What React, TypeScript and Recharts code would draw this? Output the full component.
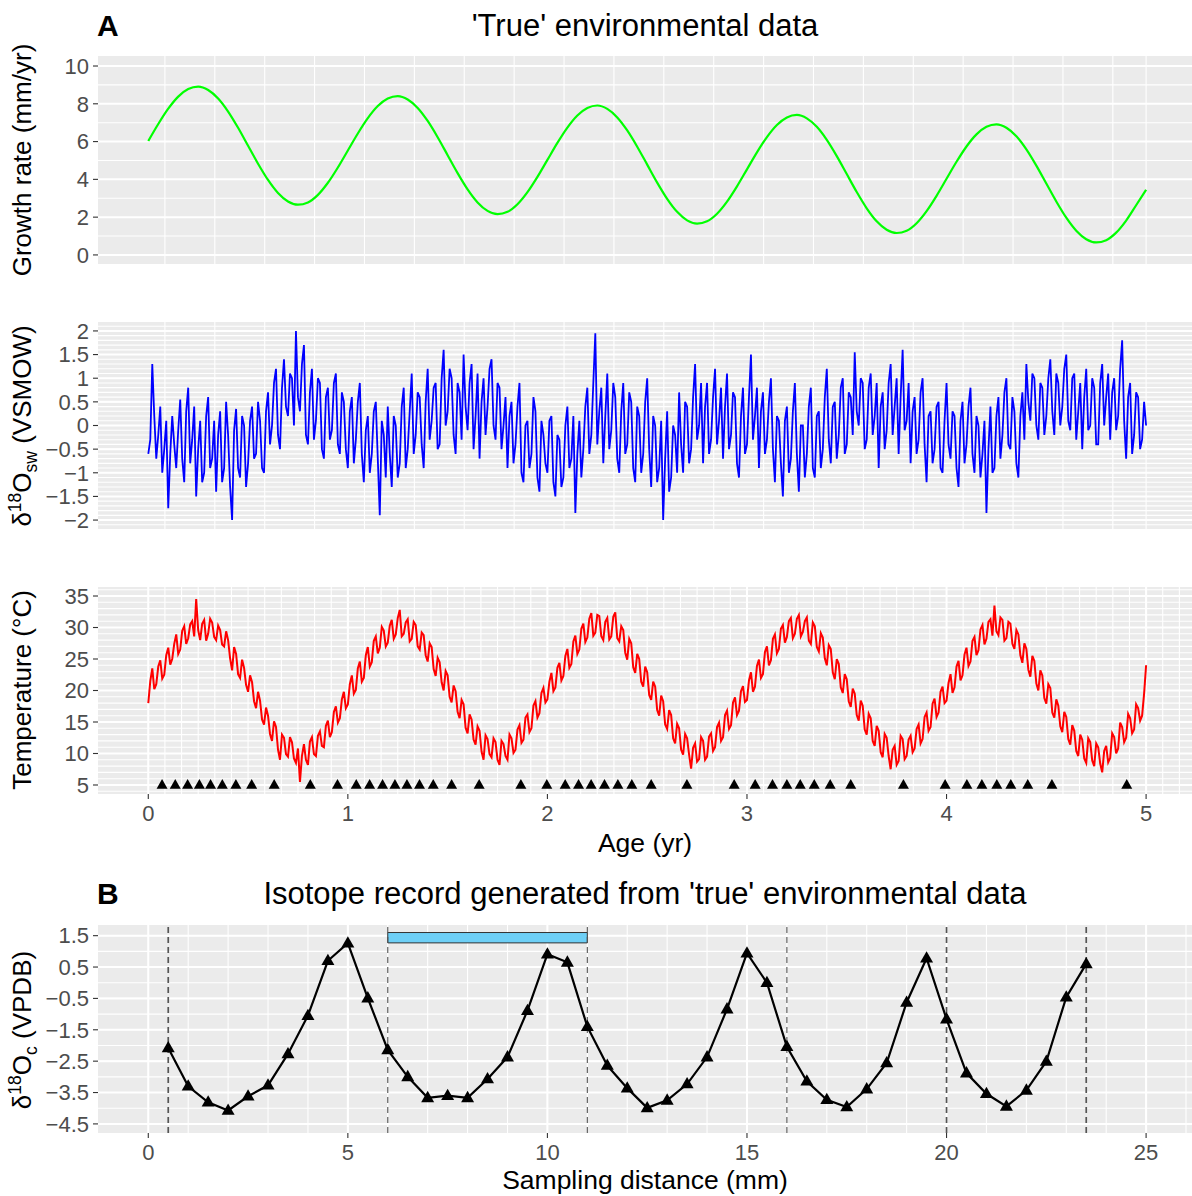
import React from 'react';
import { LineChart, Line, XAxis, YAxis, CartesianGrid, ReferenceLine, ReferenceArea } from 'recharts';

// ---- data ----
// growth rate (mm/yr), evenly spaced from 0 to 5 yr
const growthRate = [
  6.03, 6.93, 7.74, 8.38, 8.78, 8.91, 8.73, 8.28, 7.59, 6.73, 5.78, 4.83, 3.97, 3.28, 2.83, 2.66, 2.78, 3.18, 3.82, 4.63,
  5.53, 6.43, 7.24, 7.88, 8.28, 8.41, 8.23, 7.78, 7.09, 6.23, 5.28, 4.33, 3.47, 2.78, 2.33, 2.16, 2.28, 2.68, 3.32, 4.13,
  5.03, 5.93, 6.74, 7.38, 7.78, 7.91, 7.73, 7.28, 6.59, 5.73, 4.78, 3.83, 2.97, 2.28, 1.83, 1.66, 1.78, 2.18, 2.82, 3.63,
  4.53, 5.43, 6.24, 6.88, 7.28, 7.41, 7.23, 6.78, 6.09, 5.23, 4.28, 3.33, 2.47, 1.78, 1.33, 1.16, 1.28, 1.68, 2.32, 3.13,
  4.03, 4.93, 5.74, 6.38, 6.78, 6.91, 6.73, 6.28, 5.59, 4.73, 3.78, 2.83, 1.97, 1.28, 0.83, 0.66, 0.78, 1.18, 1.82, 2.63,
  3.45,
];

// d18O seawater (VSMOW), evenly spaced from 0 to 5 yr
const d18Osw = [
  -0.6, -0.3, 1.3, 0.2, -0.7, -0.2, 0.4, -1.0, -0.5, 0.1, -1.75, -0.6, 0.2, -0.4, -0.9, -0.1, 0.55, -0.7, -1.2, 0.3,
  0.8, -0.8, -0.3, 0.4, -1.5, -0.5, 0.1, -1.2, -1.0, 0.2, 0.6, -0.9, -0.7, 0.1, -1.4, -0.2, 0.3, -1.2, -0.9, 0.5,
  -0.2, -1.3, -2.0, -0.1, 0.35, -0.9, -1.1, 0.2, 0.0, -1.3, -0.8, 0.1, 0.4, -0.7, -0.6, 0.5, 0.1, -0.9, -1.0, 0.3,
  0.7, -0.4, 0.0, 0.9, 1.2, -0.2, -0.5, 0.8, 1.4, 0.4, 0.2, 1.1, 1.0, 0.0, 2.0, 0.6, 0.3, 1.3, 1.7, -0.2,
  -0.4, 0.7, 1.2, -0.3, 0.1, 1.0, 0.9, -0.5, -0.7, 0.6, 0.8, -0.3, -0.1, 0.9, 1.1, -0.4, -0.6, 0.7, 0.5, -0.5,
  -0.9, 0.3, 0.6, -0.8, -0.3, 0.5, 0.9, -0.6, -1.2, -0.1, 0.2, -1.0, -0.6, 0.3, 0.5, -0.7, -1.9, 0.1, -0.2, -1.1,
  0.4, -0.6, -1.3, 0.2, 0.0, -1.1, -0.8, 0.4, 0.8, -0.9, -0.5, 0.3, 1.1, -0.6, -0.2, 0.7, 0.6, -0.4, -0.9, 0.5,
  1.2, -0.3, 0.1, 0.8, 0.9, -0.5, -0.4, 1.0, 1.6, 0.0, 0.3, 1.2, 1.0, -0.2, -0.6, 0.9, 0.7, -0.3, 1.5, 0.4,
  -0.1, 0.9, 1.3, -0.5, 0.2, 1.1, -0.7, 0.5, 1.0, -0.2, 0.4, 1.2, 1.4, 0.0, -0.3, 0.9, 0.8, -0.5, 0.0, 0.6,
  -0.9, 0.2, 0.5, -0.8, -0.4, 0.4, 0.9, -1.0, -1.2, 0.0, 0.1, -0.9, -0.6, 0.6, 0.3, -1.1, -1.4, 0.1, -0.2, -0.8,
  -1.0, 0.1, 0.2, -1.2, -1.5, -0.2, -0.3, -1.3, -1.1, 0.0, 0.4, -0.9, -0.7, 0.2, -1.85, -0.6, 0.1, -1.1, -0.5, 0.4,
  0.8, -0.6, -0.2, 0.9, 1.95, -0.4, 0.3, 0.8, -0.8, 0.2, 1.1, -0.5, -0.1, 0.9, 0.6, -0.7, -1.0, 0.3, 0.9, -0.6,
  -0.4, 0.7, 0.5, -0.9, -1.2, 0.4, 0.2, -1.0, -0.6, 0.5, 1.0, -0.5, -1.3, 0.2, 0.0, -1.2, -0.9, 0.1, -2.0, -0.7,
  0.3, -1.4, -1.1, 0.0, -0.2, -1.0, 0.7, -0.4, -1.0, 0.5, 0.4, -0.8, -0.5, 0.6, 1.3, -0.3, 0.0, 0.9, -0.8, 0.4,
  0.9, -0.6, -0.3, 0.6, 1.2, -0.4, 0.1, 0.8, -0.7, 0.4, 1.1, -0.5, -0.2, 0.7, 0.6, -0.8, -1.1, 0.2, 0.8, -0.6,
  -0.4, 0.6, 1.5, -0.3, 0.2, 0.8, -0.9, 0.3, 0.7, -0.6, -0.3, 0.5, 1.0, -0.5, -1.2, 0.2, 0.1, -0.8, -1.5, 0.1,
  0.4, -1.0, -0.7, 0.3, 0.9, -0.6, -1.4, 0.0, 0.0, -1.1, -0.6, 0.4, 0.8, -0.9, -1.1, 0.2, 0.3, -0.9, -0.5, 0.6,
  1.2, -0.3, -0.8, 0.4, 0.5, -0.7, -0.2, 0.8, 1.0, -0.6, -0.4, 0.7, 0.6, -0.2, 1.55, 0.3, 0.0, 1.0, 0.9, -0.5,
  -0.3, 0.8, 1.1, -0.2, 0.2, 0.9, -0.9, 0.4, 0.7, -0.5, -0.1, 0.9, 1.3, -0.2, 0.4, 1.0, -0.6, 0.6, 1.6, -0.1,
  0.1, 0.9, -0.8, 0.3, 0.6, -0.6, -0.3, 0.7, 1.0, -0.4, -1.2, 0.2, 0.3, -0.8, -0.5, 0.4, 0.5, -0.9, -1.0, 0.1,
  0.9, -0.4, -0.7, 0.3, 0.2, -0.9, -1.3, 0.1, 0.5, -0.8, -0.4, 0.4, 0.8, -0.6, -1.0, 0.2, 0.0, -1.1, -0.6, 0.1,
  -1.85, -0.5, 0.4, -1.0, -0.9, 0.2, 0.6, -0.7, -0.2, 0.7, 1.0, -0.4, -0.5, 0.6, 0.3, -0.8, -1.1, 0.2, 0.7, -0.3,
  1.3, 0.5, 0.1, 1.1, 1.0, 0.0, -0.3, 0.9, 0.8, -0.2, 0.2, 1.0, 1.4, 0.3, -0.2, 1.1, 0.9, 0.0, 0.4, 1.2,
  1.5, 0.1, -0.1, 1.0, 1.1, -0.3, 0.3, 0.9, -0.5, 0.6, 1.2, -0.1, 0.0, 1.0, 0.8, -0.4, -0.4, 0.9, 1.3, 0.0,
  0.6, 1.1, -0.3, 0.7, 1.0, -0.1, 0.2, 1.2, 1.8, 0.1, -0.7, 0.6, 0.9, -0.6, -0.2, 0.7, 0.6, -0.5, -0.3, 0.5,
  0.0,
];

// temperature (degC), evenly spaced from 0 to 5 yr
const temperature = [
  18.0, 21.5, 23.5, 20.2, 21.0, 23.8, 24.8, 21.9, 22.5, 25.6, 26.8, 24.1, 25.0, 27.4, 28.9, 25.8, 26.5, 29.5, 30.2, 27.4,
  28.3, 30.5, 31.0, 28.6, 34.5, 29.6, 28.0, 30.6, 31.2, 27.9, 29.0, 31.4, 30.8, 28.5, 28.0, 30.3, 29.6, 27.3, 27.0, 29.4,
  28.0, 25.1, 23.2, 26.9, 25.8, 22.6, 22.0, 24.9, 23.6, 20.9, 19.8, 22.4, 21.3, 18.3, 17.2, 19.8, 18.4, 15.4, 14.6, 17.3,
  16.0, 13.1, 12.0, 15.1, 14.2, 10.6, 9.0, 13.0, 12.5, 9.9, 9.5, 12.6, 11.8, 9.2, 8.5, 10.8, 5.5, 9.6, 11.5, 9.0,
  8.2, 11.9, 12.6, 9.9, 9.6, 12.8, 13.5, 11.2, 11.0, 14.4, 15.2, 12.6, 13.4, 16.6, 17.5, 14.9, 15.6, 18.6, 19.8, 17.2,
  17.8, 21.0, 22.4, 19.5, 20.1, 23.5, 24.6, 21.4, 22.0, 25.6, 26.9, 23.8, 24.5, 27.9, 28.6, 25.9, 26.8, 30.1, 29.5, 27.0,
  27.6, 30.3, 31.2, 28.2, 28.9, 31.5, 32.8, 28.6, 29.0, 30.8, 31.3, 27.8, 28.2, 30.9, 30.4, 27.0, 26.5, 29.2, 28.8, 25.6,
  24.6, 27.5, 26.9, 23.4, 22.3, 25.2, 24.5, 21.3, 20.0, 23.1, 22.4, 19.0, 18.1, 20.8, 19.9, 16.6, 15.6, 18.5, 17.8, 14.1,
  13.2, 16.2, 15.4, 12.2, 11.4, 14.3, 13.6, 10.3, 9.0, 12.9, 12.3, 9.9, 9.4, 12.4, 11.8, 9.0, 8.2, 12.0, 11.5, 9.6,
  9.0, 13.0, 12.4, 10.1, 10.6, 13.8, 14.5, 11.7, 12.2, 15.7, 16.2, 13.4, 14.0, 17.6, 18.3, 15.7, 16.4, 19.6, 20.4, 18.1,
  18.6, 21.4, 22.8, 19.9, 20.5, 23.6, 24.4, 21.6, 22.3, 25.5, 26.6, 23.6, 24.2, 27.8, 28.7, 25.8, 26.5, 29.8, 30.6, 27.7,
  28.4, 31.4, 32.3, 28.7, 29.2, 32.0, 31.8, 28.6, 28.0, 30.9, 31.5, 28.1, 28.6, 31.7, 32.4, 28.3, 27.8, 30.2, 29.6, 26.0,
  24.9, 28.2, 27.5, 23.7, 22.8, 25.8, 25.0, 21.4, 20.6, 23.8, 22.9, 19.3, 18.5, 21.4, 20.6, 16.9, 16.0, 19.2, 18.3, 14.6,
  13.9, 16.9, 16.1, 12.4, 11.6, 14.7, 14.0, 10.6, 9.8, 13.1, 12.4, 9.8, 7.6, 10.9, 11.6, 8.7, 9.1, 12.6, 12.0, 9.0,
  9.5, 12.7, 13.2, 10.4, 11.0, 14.2, 14.9, 12.0, 12.6, 16.1, 16.8, 13.9, 14.5, 18.1, 18.9, 16.1, 16.8, 19.9, 20.7, 18.2,
  18.5, 21.6, 22.9, 19.8, 20.6, 23.9, 24.9, 22.0, 22.6, 26.1, 27.0, 24.0, 24.8, 28.2, 28.9, 25.9, 26.6, 29.8, 30.4, 27.6,
  28.5, 31.0, 31.5, 28.3, 29.0, 31.4, 32.0, 28.6, 29.3, 31.0, 31.6, 27.9, 27.4, 30.8, 30.2, 26.9, 26.2, 29.1, 28.4, 25.1,
  24.0, 27.2, 26.6, 22.9, 21.8, 25.0, 24.2, 20.5, 19.6, 22.6, 21.8, 18.3, 17.4, 20.3, 19.5, 16.1, 15.2, 18.4, 17.6, 13.8,
  13.0, 16.3, 15.6, 12.0, 11.2, 14.4, 13.6, 10.2, 9.4, 13.1, 12.5, 9.6, 7.5, 10.6, 11.2, 8.2, 8.8, 12.8, 12.3, 9.1,
  9.6, 12.2, 12.8, 10.2, 10.8, 13.9, 14.6, 11.6, 12.3, 15.8, 16.5, 13.6, 14.2, 17.9, 18.7, 15.8, 16.5, 19.8, 20.6, 18.0,
  18.4, 21.2, 22.6, 19.6, 20.5, 23.8, 24.7, 21.6, 22.4, 25.7, 26.8, 23.9, 24.6, 27.9, 28.5, 25.6, 26.4, 29.7, 30.4, 27.3,
  28.2, 30.9, 31.3, 28.7, 33.5, 29.4, 28.8, 31.6, 31.2, 27.9, 28.3, 30.9, 30.6, 27.4, 26.6, 29.6, 28.9, 25.6, 24.4, 27.5,
  26.6, 23.3, 22.2, 25.5, 24.7, 21.1, 20.0, 23.2, 22.4, 18.8, 17.9, 21.0, 20.4, 16.5, 15.7, 18.6, 17.6, 14.3, 13.4, 16.6,
  15.8, 12.3, 11.4, 14.5, 13.6, 10.4, 9.6, 13.0, 12.2, 9.2, 8.5, 12.4, 11.8, 8.9, 8.0, 11.6, 11.0, 8.4, 7.0, 10.4,
  11.2, 8.6, 9.3, 13.2, 12.6, 10.0, 10.8, 14.9, 14.2, 11.8, 12.5, 16.3, 15.6, 13.2, 13.8, 17.8, 17.2, 15.2, 16.0, 19.5,
  24.0,
];
const AGE_END = 5;

// ages (yr) of the sampled points, drawn as triangles at 5 degC
const sampleAge = [
  0.069, 0.135, 0.197, 0.256, 0.312, 0.371, 0.439, 0.518, 0.631, 0.812, 0.948, 1.042, 1.109, 1.174, 1.236, 1.296,
  1.359, 1.428, 1.52, 1.658, 1.867, 1.997, 2.089, 2.156, 2.219, 2.286, 2.353, 2.423, 2.52, 2.699, 2.936, 3.041,
  3.128, 3.2, 3.267, 3.337, 3.417, 3.52, 3.784, 3.993, 4.102, 4.177, 4.252, 4.322, 4.407, 4.528, 4.903,
];

// isotope record
const samplingDist = [
  0.5, 1, 1.5, 2, 2.5, 3, 3.5, 4, 4.5, 5, 5.5, 6, 6.5, 7, 7.5, 8, 8.5, 9, 9.5, 10, 10.5, 11, 11.5, 12,
  12.5, 13, 13.5, 14, 14.5, 15, 15.5, 16, 16.5, 17, 17.5, 18, 18.5, 19, 19.5, 20, 20.5, 21, 21.5, 22, 22.5, 23, 23.5,
];
const d18Oc = [
  -2.08, -3.3, -3.81, -4.07, -3.62, -3.27, -2.27, -1.05, 0.7, 1.26, -0.49, -2.14, -3.0, -3.67, -3.6, -3.67,
  -3.07, -2.37, -0.89, 0.91, 0.65, -1.4, -2.64, -3.36, -3.99, -3.75, -3.23, -2.37, -0.84, 0.94, 0.0, -2.04,
  -3.14, -3.73, -3.96, -3.39, -2.56, -0.63, 0.78, -1.16, -2.88, -3.54, -3.94, -3.43, -2.51, -0.46, 0.6,
];
const yearBounds = [0.5, 6, 11, 16, 20, 23.5];
const heavyBounds = [0.5, 20, 23.5];
const windowBar = { x1: 6, x2: 11, y1: 1.27, y2: 1.6 };

const growthTicks = [0, 2, 4, 6, 8, 10];
const swTicks = [-2, -1.5, -1, -0.5, 0, 0.5, 1, 1.5, 2];
const tempTicks = [5, 10, 15, 20, 25, 30, 35];
const ageTicks = [0, 1, 2, 3, 4, 5];
const cTicks = [-4.5, -3.5, -2.5, -1.5, -0.5, 0.5, 1.5];
const distTicks = [0, 5, 10, 15, 20, 25];

// ---- tables ----
const onAge = (vals: number[]) => vals.map((v, i) => ({ t: (i * AGE_END) / (vals.length - 1), v }));
const growthData = onAge(growthRate);
const swData = onAge(d18Osw);
const tempData = onAge(temperature);
const sampleRow = sampleAge.map((t) => ({ t, v: 5 }));
const isoData = samplingDist.map((d, i) => ({ t: d, v: d18Oc[i] }));

// ---- look ----
const W = 1192;
const FONT = '"Liberation Sans", Arial, Helvetica, sans-serif';
const PANEL = '#EBEBEB';
const Y_W = 98;
const PAD = 14;
const AGE_DOMAIN: [number, number] = [-0.252, 5.23];
const DIST_DOMAIN: [number, number] = [-1.26, 26.15];

const seq = (a: number, b: number, step: number) => {
  const out: number[] = [];
  for (let v = a; v <= b + 1e-9; v += step) out.push(+v.toFixed(4));
  return out;
};
const months = seq(0, 5.25, 1 / 12);

const tickStyle = { fill: '#4D4D4D', fontSize: 22, fontFamily: FONT };
const tickLine = { stroke: '#333333', strokeWidth: 1.1 };
const fmt = (v: number) => (v < 0 ? '\u2212' + Math.abs(v) : String(v));

const Tri = ({ cx, cy, s }: { cx?: number; cy?: number; s: number }) => {
  if (cx == null || cy == null) return null;
  const h = s * 0.87;
  return <path d={`M${cx},${cy - h * 0.62} L${cx + s / 2},${cy + h * 0.38} L${cx - s / 2},${cy + h * 0.38} Z`} fill="#000" />;
};

const pos = (top: number): React.CSSProperties => ({ position: 'absolute', left: 0, top: top - PAD });

export default function App() {
  return (
    <div style={{ position: 'absolute', left: 0, top: 0, width: W, height: 1196, background: '#fff', overflow: 'hidden' }}>
      {/* growth rate */}
      <div style={pos(56)}>
        <LineChart width={W} height={208 + 2 * PAD} margin={{ top: PAD, right: 0, bottom: PAD, left: 0 }}>
          <CartesianGrid fill={PANEL} stroke="#fff" strokeWidth={1.1} horizontalValues={seq(1, 9, 2)} verticalValues={months} />
          <CartesianGrid stroke="#fff" strokeWidth={2} vertical={false} horizontalValues={growthTicks} />
          <XAxis type="number" dataKey="t" domain={AGE_DOMAIN} allowDataOverflow hide />
          <YAxis type="number" domain={[-0.48, 10.53]} ticks={growthTicks} interval={0} width={Y_W} tick={tickStyle} tickLine={tickLine} axisLine={false} tickSize={5} tickMargin={4} />
          <Line data={growthData} dataKey="v" type="monotone" stroke="#00FF00" strokeWidth={2.2} dot={false} isAnimationActive={false} />
        </LineChart>
      </div>

      {/* d18O seawater */}
      <div style={pos(321)}>
        <LineChart width={W} height={209 + 2 * PAD} margin={{ top: PAD, right: 0, bottom: PAD, left: 0 }}>
          <CartesianGrid fill={PANEL} stroke="#fff" strokeWidth={1.1} horizontalValues={seq(-2.2, 2.2, 0.1)} verticalValues={months} />
          <CartesianGrid stroke="#fff" strokeWidth={2} vertical={false} horizontalValues={swTicks} />
          <XAxis type="number" dataKey="t" domain={AGE_DOMAIN} allowDataOverflow hide />
          <YAxis type="number" domain={[-2.21, 2.21]} ticks={swTicks} interval={0} width={Y_W} tick={tickStyle} tickFormatter={fmt} tickLine={tickLine} axisLine={false} tickSize={5} tickMargin={4} />
          <Line data={swData} dataKey="v" type="linear" stroke="#0000FF" strokeWidth={1.8} dot={false} isAnimationActive={false} />
        </LineChart>
      </div>

      {/* temperature */}
      <div style={pos(587)}>
        <LineChart width={W} height={207 + PAD + 40} margin={{ top: PAD, right: 0, bottom: 0, left: 0 }}>
          <CartesianGrid fill={PANEL} stroke="#fff" strokeWidth={1.1} horizontalValues={seq(4, 36, 1)} verticalValues={months} />
          <CartesianGrid stroke="#fff" strokeWidth={2} horizontalValues={tempTicks} verticalValues={ageTicks} />
          <XAxis type="number" dataKey="t" domain={AGE_DOMAIN} allowDataOverflow ticks={ageTicks} interval={0} height={40} tick={tickStyle} tickLine={tickLine} axisLine={false} tickSize={5} tickMargin={6} />
          <YAxis type="number" domain={[3.57, 36.43]} ticks={tempTicks} interval={0} width={Y_W} tick={tickStyle} tickLine={tickLine} axisLine={false} tickSize={5} tickMargin={4} />
          <Line data={tempData} dataKey="v" type="linear" stroke="#FF0000" strokeWidth={2} dot={false} isAnimationActive={false} />
          <Line data={sampleRow} dataKey="v" stroke="none" dot={(p: any) => <Tri key={`s${p.index}`} cx={p.cx} cy={p.cy} s={11} />} isAnimationActive={false} />
        </LineChart>
      </div>

      {/* isotope record */}
      <div style={pos(925)}>
        <LineChart width={W} height={208 + PAD + 40} margin={{ top: PAD, right: 0, bottom: 0, left: 0 }}>
          <CartesianGrid fill={PANEL} stroke="#fff" strokeWidth={1.1} horizontalValues={seq(-4.5, 1.5, 0.5)} verticalValues={seq(0, 26, 1)} />
          <CartesianGrid stroke="#fff" strokeWidth={2} horizontalValues={cTicks} verticalValues={distTicks} />
          <XAxis type="number" dataKey="t" domain={DIST_DOMAIN} allowDataOverflow ticks={distTicks} interval={0} height={40} tick={tickStyle} tickLine={tickLine} axisLine={false} tickSize={5} tickMargin={6} />
          <YAxis type="number" domain={[-4.79, 1.84]} ticks={cTicks} interval={0} width={Y_W} tick={tickStyle} tickFormatter={fmt} tickLine={tickLine} axisLine={false} tickSize={5} tickMargin={4} />
          {yearBounds.map((x) => (
            <ReferenceLine key={x} x={x} stroke="#555555" strokeWidth={heavyBounds.includes(x) ? 1.7 : 1.1} strokeDasharray="6 4" />
          ))}
          <ReferenceArea x1={windowBar.x1} x2={windowBar.x2} y1={windowBar.y1} y2={windowBar.y2} fill="#6DCFF6" fillOpacity={1} stroke="#333333" strokeWidth={1} />
          <Line data={isoData} dataKey="v" type="linear" stroke="#000" strokeWidth={2.2} dot={(p: any) => <Tri key={`c${p.index}`} cx={p.cx} cy={p.cy} s={13} />} isAnimationActive={false} />
        </LineChart>
      </div>

      {/* titles and axis titles */}
      <svg width={W} height={1196} style={{ position: 'absolute', left: 0, top: 0, pointerEvents: 'none' }} fontFamily={FONT}>
        <text x={97} y={36} fontSize={30} fontWeight="bold">A</text>
        <text x={645} y={36} fontSize={31} textAnchor="middle">'True' environmental data</text>
        <text x={97} y={904} fontSize={30} fontWeight="bold">B</text>
        <text x={645} y={904} fontSize={31} textAnchor="middle">Isotope record generated from 'true' environmental data</text>
        <text x={645} y={852} fontSize={26.5} textAnchor="middle">Age (yr)</text>
        <text x={645} y={1189} fontSize={26.5} textAnchor="middle">Sampling distance (mm)</text>
        <text transform="translate(31,160) rotate(-90)" fontSize={26} textAnchor="middle">Growth rate (mm/yr)</text>
        <text transform="translate(31,426) rotate(-90)" fontSize={26} textAnchor="middle">
          δ<tspan fontSize={17.5} dy={-10}>18</tspan>
          <tspan dy={10}>O</tspan>
          <tspan fontSize={17.5} dy={6}>sw</tspan>
          <tspan dy={-6}> (VSMOW)</tspan>
        </text>
        <text transform="translate(31,690) rotate(-90)" fontSize={26} textAnchor="middle">Temperature (°C)</text>
        <text transform="translate(31,1030) rotate(-90)" fontSize={26} textAnchor="middle">
          δ<tspan fontSize={17.5} dy={-10}>18</tspan>
          <tspan dy={10}>O</tspan>
          <tspan fontSize={17.5} dy={6}>c</tspan>
          <tspan dy={-6}> (VPDB)</tspan>
        </text>
      </svg>
    </div>
  );
}
